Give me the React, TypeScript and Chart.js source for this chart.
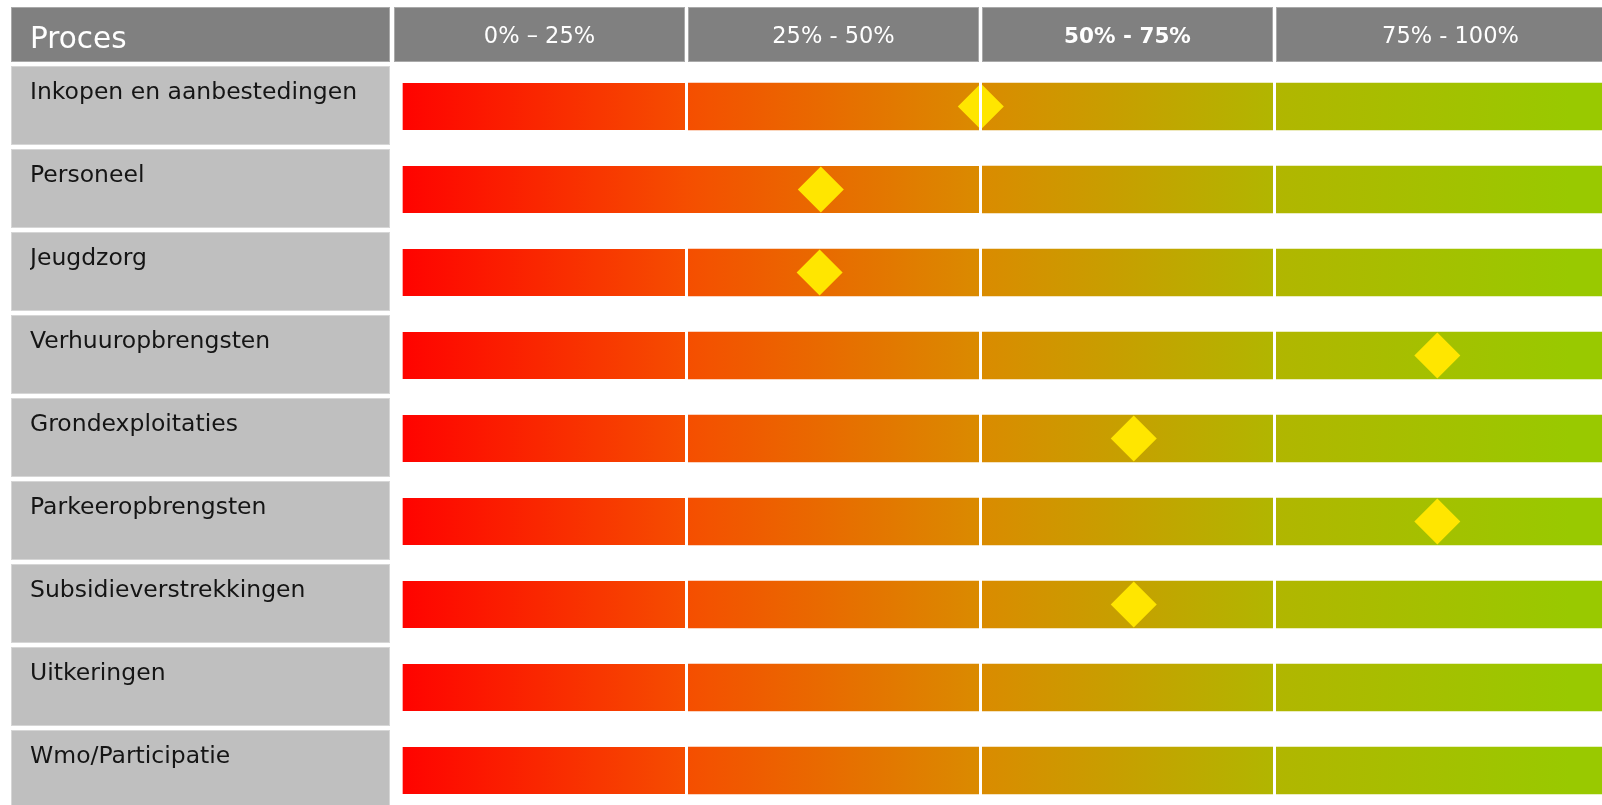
import { useEffect, useRef } from 'react';
import { Chart, registerables } from 'chart.js';

Chart.register(...registerables);

// ---- data ----
const HEADER_TITLE = 'Proces';
const PROCESSES = [
  'Inkopen en aanbestedingen',
  'Personeel',
  'Jeugdzorg',
  'Verhuuropbrengsten',
  'Grondexploitaties',
  'Parkeeropbrengsten',
  'Subsidieverstrekkingen',
  'Uitkeringen',
  'Wmo/Participatie',
];
// score (%) shown by the yellow diamond; null = no score
const SCORES: (number | null)[] = [50, 36.4, 36.3, 88.8, 63, 88.8, 63, null, null];
const BAND_LABELS = ['0% \u2013 25%', '25% - 50%', '50% - 75%', '75% - 100%'];
const BAND_EDGES = [0, 25, 50, 75, 100];
const HIGHLIGHTED_BAND = '50% - 75%';
// interior breaks of each row's bar (Personeel has no break at 25%)
const ROW_BREAKS: number[][] = [
  [25, 50, 75],
  [50, 75],
  [25, 50, 75],
  [25, 50, 75],
  [25, 50, 75],
  [25, 50, 75],
  [25, 50, 75],
  [25, 50, 75],
  [25, 50, 75],
];
// the last column of the table is wider and runs off the right edge of the page
const TABLE_END = 104.75;

// ---- styles ----
const FONT = '"DejaVu Sans", Verdana, sans-serif';
const GRADIENT_STOPS: [number, string][] = [
  [0, '#ff0000'],
  [25, '#f54e00'],
  [50, '#da8b00'],
  [75, '#b1b600'],
  [100, '#99c900'],
];
const DIAMOND = '#ffe600';
const PAGE_W = 1602;
const PAGE_H = 805;
// the table is larger than the page: the canvas runs past the page edges and is cropped
const CANVAS_W = 1625;
const CANVAS_H = 830;

const segmentsPerRow = ROW_BREAKS.map((br) => {
  const e = [0, ...br, TABLE_END];
  return e.slice(0, -1).map((s, j) => [s, e[j + 1]] as [number, number]);
});
const segmentCount = Math.max(...segmentsPerRow.map((s) => s.length));

function gradientFill(c: any) {
  const chart = c.chart;
  const x = chart.scales?.x;
  if (!x || !chart.chartArea) return GRADIENT_STOPS[0][1];
  const x0 = x.getPixelForValue(0);
  const x1 = x.getPixelForValue(100);
  if (!isFinite(x0) || !isFinite(x1) || x1 <= x0) return GRADIENT_STOPS[0][1];
  const g = chart.ctx.createLinearGradient(x0, 0, x1, 0);
  GRADIENT_STOPS.forEach(([v, col]) => g.addColorStop(v / 100, col));
  return g;
}

function drawCell(ctx: CanvasRenderingContext2D, l: number, t: number, r: number, b: number, fill: string, stroke: string) {
  ctx.fillStyle = stroke;
  ctx.fillRect(l, t, r - l, b - t);
  ctx.fillStyle = fill;
  ctx.fillRect(l + 1, t + 1, r - l - 2, b - t - 2);
}

const tablePlugin = {
  id: 'tableDecor',
  beforeDraw(chart: any) {
    const { ctx } = chart;
    const x = chart.scales.x;
    const y = chart.scales.y;
    const px = (v: number) => x.getPixelForValue(v);
    ctx.save();
    ctx.fillStyle = '#ffffff';
    ctx.fillRect(0, 0, chart.width, chart.height);
    const labelRight = Math.round(px(0) - 2.5);
    const headerTop = 7;
    const headerBottom = 62;
    drawCell(ctx, 11, headerTop, labelRight, headerBottom, '#808080', '#a9a9a9');
    const bandBounds = BAND_LABELS.map((_, k) => {
      const l = Math.round(px(BAND_EDGES[k]) + 1.5);
      const r = k === BAND_LABELS.length - 1 ? Math.round(px(TABLE_END)) : Math.round(px(BAND_EDGES[k + 1]) - 1.5);
      return [l, r];
    });
    bandBounds.forEach(([l, r]) => drawCell(ctx, l, headerTop, r, headerBottom, '#808080', '#a9a9a9'));
    const half = (y.getPixelForValue(1) - y.getPixelForValue(0)) / 2;
    PROCESSES.forEach((_, i) => {
      const c = y.getPixelForValue(i);
      const top = Math.round(c - half) + 1;
      const bot = Math.round(c + half) - 3;
      drawCell(ctx, 11, top, labelRight, bot, '#bfbfbf', '#d6d6d6');
    });
    ctx.fillStyle = '#ffffff';
    ctx.textBaseline = 'alphabetic';
    ctx.textAlign = 'left';
    ctx.font = `29.5px ${FONT}`;
    ctx.fillText(HEADER_TITLE, 30, 48);
    ctx.textAlign = 'center';
    BAND_LABELS.forEach((lab, k) => {
      const [l, r] = bandBounds[k];
      ctx.font = lab === HIGHLIGHTED_BAND ? `bold 21.5px ${FONT}` : `22.5px ${FONT}`;
      ctx.fillText(lab, (l + r) / 2, 43);
    });
    ctx.restore();
  },
  afterDatasetsDraw(chart: any) {
    const { ctx } = chart;
    const x = chart.scales.x;
    ctx.save();
    ctx.fillStyle = '#ffffff';
    chart.getSortedVisibleDatasetMetas().forEach((meta: any) => {
      if (meta.type !== 'bar') return;
      const ds = chart.data.datasets[meta.index];
      meta.data.forEach((el: any, i: number) => {
        const raw = ds.data[i];
        if (!raw || raw[0] === 0) return;
        const xp = Math.round(x.getPixelForValue(raw[0]) - 1.5);
        const { y: cy } = el.getProps(['y'], true);
        ctx.fillRect(xp, cy - 24.5, 3, 49);
      });
    });
    ctx.restore();
  },
};

export default function App() {
  const ref = useRef<HTMLCanvasElement | null>(null);

  useEffect(() => {
    document.body.style.margin = '0';
    document.body.style.overflow = 'hidden';
    if (!ref.current) return;
    const barDatasets = Array.from({ length: segmentCount }, (_, k) => ({
      type: 'bar' as const,
      label: `segment ${k + 1}`,
      data: segmentsPerRow.map((s) => (s[k] ? s[k] : null)),
      order: 2,
      grouped: false,
      barThickness: 47,
      borderSkipped: false,
      borderColor: 'rgba(0,0,0,0)',
      borderWidth: (c: any) => ({ left: c.raw && c.raw[0] === 0 ? 10.5 : 0, right: 0, top: 0, bottom: 0 }),
      backgroundColor: gradientFill,
      hoverBackgroundColor: gradientFill,
    }));
    const scoreDataset = {
      type: 'scatter' as const,
      label: 'score',
      data: SCORES.map((s, i) => (s === null ? null : { x: s, y: PROCESSES[i] })).filter(Boolean),
      order: 1,
      pointStyle: 'rectRot',
      pointRadius: 23,
      pointHoverRadius: 23,
      pointBorderWidth: 0,
      pointBackgroundColor: DIAMOND,
      pointBorderColor: DIAMOND,
    };
    const chart = new Chart(ref.current, {
      type: 'bar',
      data: { labels: PROCESSES, datasets: [...barDatasets, scoreDataset] as any },
      options: {
        responsive: false,
        animation: false,
        devicePixelRatio: 1,
        indexAxis: 'y',
        events: [],
        layout: { autoPadding: false, padding: { left: 30, top: 65, right: 0, bottom: 18 } },
        plugins: { legend: { display: false }, tooltip: { enabled: false } },
        scales: {
          x: { type: 'linear', min: 0, max: TABLE_END, display: false },
          y: {
            type: 'category',
            grid: { display: false, drawTicks: false },
            border: { display: false },
            ticks: {
              crossAlign: 'far',
              labelOffset: -14,
              padding: 0,
              autoSkip: false,
              color: '#151515',
              font: { family: FONT, size: 23.5 },
            },
            afterFit: (s: any) => {
              s.width = 362.5;
            },
          },
        },
      } as any,
      plugins: [tablePlugin],
    });
    return () => chart.destroy();
  }, []);

  return (
    <div style={{ position: 'fixed', left: 0, top: 0, width: PAGE_W, height: PAGE_H, overflow: 'hidden', background: '#fff' }}>
      <canvas ref={ref} width={CANVAS_W} height={CANVAS_H} style={{ display: 'block', width: CANVAS_W, height: CANVAS_H }} />
    </div>
  );
}
